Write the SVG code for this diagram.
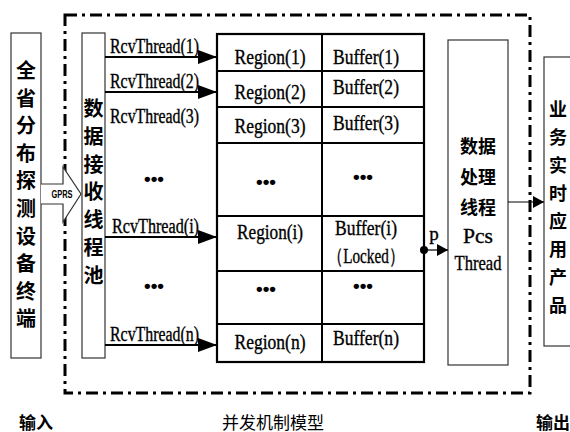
<svg xmlns="http://www.w3.org/2000/svg" width="570" height="432" viewBox="0 0 570 432">
<defs>
<style>
.box{fill:#fff;stroke:#333;stroke-width:1.2}
.tbl{fill:none;stroke:#000;stroke-width:2}
.cjk{font-family:"Noto Sans CJK SC","Liberation Sans",sans-serif;font-weight:700;fill:#000;text-anchor:middle;dominant-baseline:central}
.ser{font-family:"Liberation Serif","Times New Roman",serif;fill:#000;text-anchor:middle;stroke:#000;stroke-width:0.35}
.rcv{font-family:"Liberation Serif","Times New Roman",serif;fill:#000;font-size:20px;stroke:#000;stroke-width:0.35}
.dots{font-family:"Liberation Sans",Arial,sans-serif;font-size:19px;font-weight:700;text-anchor:middle;fill:#000}
.conn{stroke:#000;stroke-width:2;fill:none}
.thin{stroke:#000;stroke-width:1.2;fill:none}
</style>
<marker id="bigArrow" markerUnits="userSpaceOnUse" markerWidth="20" markerHeight="14" refX="19" refY="7" orient="auto">
<path d="M0,0 L19,7 L0,14 Z" fill="#000"/>
</marker>
<marker id="smallArrow" markerUnits="userSpaceOnUse" markerWidth="12" markerHeight="12" refX="11" refY="6" orient="auto">
<path d="M0,0 L11,6 L0,12 Z" fill="#000"/>
</marker>
</defs>
<rect width="570" height="432" fill="#fff"/>

<!-- dash-dot boundary -->
<rect id="boundary" x="65" y="15" width="465" height="378" fill="none" stroke="#000" stroke-width="3" stroke-dasharray="12 5 3 5"/>

<g id="source">
<rect class="box" x="11" y="33" width="30" height="325"/>
<g class="cjk" font-size="20">
<text x="26" y="69">全</text><text x="26" y="97">省</text><text x="26" y="124">分</text><text x="26" y="152">布</text><text x="26" y="179">探</text><text x="26" y="207">测</text><text x="26" y="235">设</text><text x="26" y="262">备</text><text x="26" y="290">终</text><text x="26" y="317">端</text>
</g>
</g>

<g id="pool">
<rect class="box" x="82" y="33" width="23" height="325"/>
<g class="cjk" font-size="20">
<text x="93.5" y="107">数</text><text x="93.5" y="135">据</text><text x="93.5" y="163">接</text><text x="93.5" y="190">收</text><text x="93.5" y="218">线</text><text x="93.5" y="246">程</text><text x="93.5" y="274">池</text>
</g>
</g>

<g id="table">
<rect x="217" y="34" width="207" height="328" fill="#fff" stroke="#000" stroke-width="2.2"/>
<g class="tbl">
<line x1="322" y1="34" x2="322" y2="362"/>
<line x1="217" y1="71" x2="424" y2="71"/>
<line x1="217" y1="107" x2="424" y2="107"/>
<line x1="217" y1="143" x2="424" y2="143"/>
<line x1="217" y1="216" x2="424" y2="216"/>
<line x1="217" y1="271" x2="424" y2="271"/>
<line x1="217" y1="324" x2="424" y2="324"/>
</g>
<g class="ser" font-size="21">
<text x="270" y="64" textLength="71" lengthAdjust="spacingAndGlyphs">Region(1)</text>
<text x="366" y="64" textLength="66" lengthAdjust="spacingAndGlyphs">Buffer(1)</text>
<text x="270" y="99" textLength="71" lengthAdjust="spacingAndGlyphs">Region(2)</text>
<text x="366" y="94" textLength="66" lengthAdjust="spacingAndGlyphs">Buffer(2)</text>
<text x="270" y="133" textLength="71" lengthAdjust="spacingAndGlyphs">Region(3)</text>
<text x="366" y="130" textLength="66" lengthAdjust="spacingAndGlyphs">Buffer(3)</text>
<text x="270" y="239" textLength="66" lengthAdjust="spacingAndGlyphs">Region(i)</text>
<text x="366" y="235" textLength="62" lengthAdjust="spacingAndGlyphs">Buffer(i)</text>
<text x="366" y="263" textLength="76" lengthAdjust="spacingAndGlyphs">（Locked）</text>
<text x="270" y="349" textLength="71" lengthAdjust="spacingAndGlyphs">Region(n)</text>
<text x="366" y="345" textLength="66" lengthAdjust="spacingAndGlyphs">Buffer(n)</text>
</g>
<text class="dots" x="266" y="188">•••</text>
<text class="dots" x="363" y="183">•••</text>
<text class="dots" x="266" y="295">•••</text>
<text class="dots" x="363" y="292">•••</text>
</g>

<g id="pcs">
<rect class="box" x="448" y="40" width="60" height="325"/>
<g class="cjk" font-size="18">
<text x="478" y="145">数据</text><text x="478" y="176">处理</text><text x="478" y="206">线程</text>
</g>
<text class="ser" x="478" y="243" font-size="21" textLength="30" lengthAdjust="spacingAndGlyphs">Pcs</text>
<text class="ser" x="478" y="270" font-size="21" textLength="47" lengthAdjust="spacingAndGlyphs">Thread</text>
</g>

<g id="output">
<rect class="box" x="544" y="57" width="40" height="289"/>
<g class="cjk" font-size="18">
<text x="558" y="108">业</text><text x="558" y="136">务</text><text x="558" y="164">实</text><text x="558" y="192">时</text><text x="558" y="220">应</text><text x="558" y="248">用</text><text x="558" y="276">产</text><text x="558" y="304">品</text>
</g>
</g>

<g id="connectors">
<!-- GPRS hollow block arrow -->
<path d="M41,184 L63,184 L63,167 L81,194 L63,222 L63,204 L41,204" fill="#fff" stroke="#333" stroke-width="1.2"/>
<text x="62" y="198" font-family="'Liberation Sans',Arial,sans-serif" font-size="10" font-weight="700" text-anchor="middle" textLength="21" lengthAdjust="spacingAndGlyphs">GPRS</text>

<line class="conn" x1="105" y1="57" x2="217" y2="57" marker-end="url(#bigArrow)"/>
<line class="conn" x1="105" y1="92" x2="217" y2="92" marker-end="url(#bigArrow)"/>
<line class="conn" x1="105" y1="237" x2="217" y2="237" marker-end="url(#bigArrow)"/>
<line class="conn" x1="105" y1="345" x2="217" y2="345" marker-end="url(#bigArrow)"/>
<text class="rcv" x="110" y="53" textLength="89" lengthAdjust="spacingAndGlyphs">RcvThread(1)</text>
<text class="rcv" x="110" y="88" textLength="89" lengthAdjust="spacingAndGlyphs">RcvThread(2)</text>
<text class="rcv" x="110" y="123" textLength="89" lengthAdjust="spacingAndGlyphs">RcvThread(3)</text>
<text class="rcv" x="112" y="233" textLength="87" lengthAdjust="spacingAndGlyphs">RcvThread(i)</text>
<text class="rcv" x="110" y="341" textLength="89" lengthAdjust="spacingAndGlyphs">RcvThread(n)</text>
<text class="dots" x="154" y="185">•••</text>
<text class="dots" x="154" y="292">•••</text>

<circle cx="424" cy="250" r="4" fill="#000"/>
<line class="thin" x1="424" y1="250" x2="448" y2="250" marker-end="url(#smallArrow)"/>
<text class="ser" x="434" y="240" font-size="19">p</text>

<line class="thin" x1="508" y1="202" x2="544" y2="202" marker-end="url(#smallArrow)"/>
</g>

<g id="labels">
<text x="36" y="421" class="cjk" font-size="17">输入</text>
<text x="273" y="421" class="cjk" font-size="17" style="font-weight:400">并发机制模型</text>
<text x="553" y="421" class="cjk" font-size="17">输出</text>
</g>
</svg>
